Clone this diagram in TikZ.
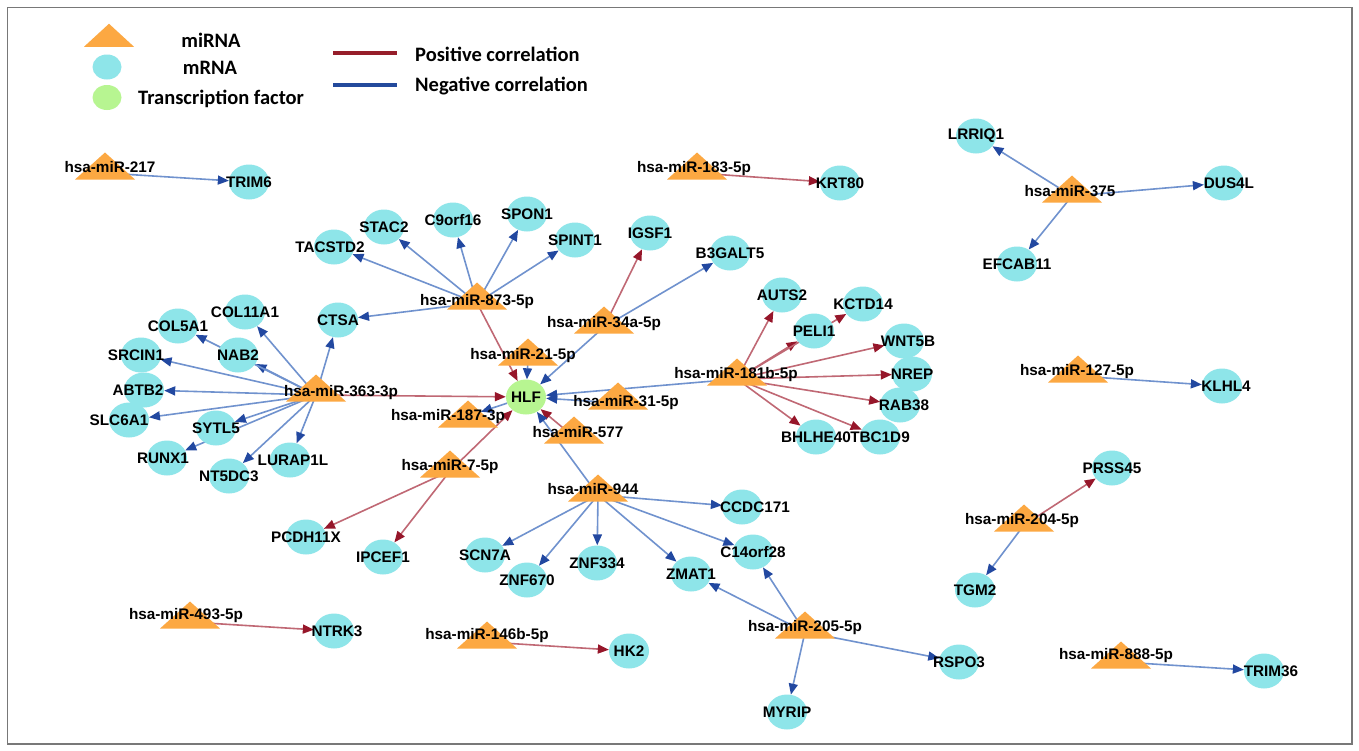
\documentclass[tikz,border=0pt]{standalone}
\usepackage{fontspec}
\setmainfont{Liberation Sans}
\newfontfamily\legfont{Carlito}
\usetikzlibrary{shapes.geometric,arrows.meta}
\definecolor{mirfill}{RGB}{252,168,66}
\definecolor{mrnafill}{RGB}{142,229,233}
\definecolor{tffill}{RGB}{183,245,145}
\definecolor{edgeblue}{RGB}{112,146,206}
\definecolor{tipblue}{RGB}{34,72,160}
\definecolor{edgered}{RGB}{192,104,116}
\definecolor{tipred}{RGB}{150,22,42}
\definecolor{legred}{RGB}{150,30,42}
\definecolor{legblue}{RGB}{36,74,156}
\definecolor{framegray}{RGB}{120,120,120}
\pgfdeclarelayer{bg}\pgfdeclarelayer{fg}\pgfsetlayers{bg,main,fg}
\tikzset{
 mir/.style={isosceles triangle, isosceles triangle stretches, shape border rotate=90,
   minimum width=60pt, minimum height=27pt, inner sep=0pt, fill=mirfill, draw=none},
 mrnab/.style={ellipse, fill=mrnafill, minimum width=40pt, minimum height=35pt, inner sep=0pt, draw=none},
 mrna/.style={mrnab, label={[lbl]center:#1}},
 lbl/.style={font=\bfseries\fontsize{15.3}{17}\selectfont, inner sep=0pt, text=black},
 negedge/.style={draw=edgeblue, line width=1.6pt, -{Triangle[length=11pt,width=9pt,color=tipblue]}},
 posedge/.style={draw=edgered, line width=1.6pt, -{Triangle[length=11pt,width=9pt,color=tipred]}},
 leg/.style={font=\legfont\bfseries\fontsize{20.5}{22}\selectfont, inner sep=0pt},
}
\newcommand\mirE[3]{\draw[#1] ([yshift=-5pt]#2.center) -- (#3);}
\begin{document}
\begin{tikzpicture}[x=1pt,y=-1pt]
\useasboundingbox (0,0) rectangle (1359,750);
\begin{pgfonlayer}{bg}
\fill[white] (0,0) rectangle (1359,750);
\end{pgfonlayer}
\draw[framegray, line width=1.2pt] (7.5,7.5) rectangle (1352,744);

% ---------- legend ----------
\node[mir, minimum width=50pt, minimum height=23pt] (legtri) at (109,37) {};
\node[leg] (legmir) at (211,40) {miRNA};
\node[ellipse, fill=mrnafill, minimum width=29pt, minimum height=25pt, inner sep=0pt] (legm) at (107,67) {};
\node[leg] (legmr) at (210,68) {mRNA};
\node[ellipse, fill=tffill, minimum width=29pt, minimum height=25pt, inner sep=0pt] (legtf) at (107,97.5) {};
\node[leg, anchor=west] (legtft) at (138,99) {Transcription factor};
\coordinate (rp1) at (333,53); \coordinate (rp2) at (397,53);
\draw[legred, line width=4pt] (rp1) -- (rp2);
\node[leg, anchor=west] (legpos) at (415,54) {Positive correlation};
\coordinate (bn1) at (333,85); \coordinate (bn2) at (397,85);
\draw[legblue, line width=4pt] (bn1) -- (bn2);
\node[leg, anchor=west] (legneg) at (415,86) {Negative correlation};

% ---------- miRNA triangles ----------
\node[mir] (m217) at (105,168) {};
\node[mir] (m183) at (697,168) {};
\node[mir] (m375) at (1072,191) {};
\node[mir] (m873) at (477,298) {};
\node[mir] (m34a) at (604,322) {};
\node[mir] (m21) at (528,354) {};
\node[mir] (m363) at (316,390) {};
\node[mir] (m181b) at (737,374) {};
\node[mir] (m31) at (618,398) {};
\node[mir] (m187) at (468,416) {};
\node[mir] (m577) at (574,432) {};
\node[mir] (m7) at (450,466) {};
\node[mir] (m127) at (1078,371) {};
\node[mir] (m944) at (598,490) {};
\node[mir] (m204) at (1024,520) {};
\node[mir] (m493) at (190,617) {};
\node[mir] (m146b) at (487,637) {};
\node[mir] (m205) at (805,627) {};
\node[mir] (m888) at (1121,657) {};

% ---------- transcription factor ----------
\node[ellipse, fill=tffill, minimum width=40pt, minimum height=35pt, inner sep=0pt, label={[lbl]center:HLF}] (hlf) at (526,397) {};

% ---------- mRNA ----------
\node[mrna=TRIM6] (trim6) at (249,182) {};
\node[mrna=KRT80] (krt80) at (840,183) {};
\node[mrna=LRRIQ1] (lrriq1) at (976,136) {};
\node[mrnab, label={[lbl,xshift=5pt]center:DUS4L}] (dus4l) at (1224,183) {};
\node[mrna=EFCAB11] (efcab11) at (1017,264) {};
\node[mrnab, label={[lbl,xshift=-4pt]center:TACSTD2}] (tacstd2) at (334,247) {};
\node[mrna=STAC2] (stac2) at (384,227) {};
\node[mrna=C9orf16] (c9orf16) at (453,220) {};
\node[mrna=SPON1] (spon1) at (527,214) {};
\node[mrna=SPINT1] (spint1) at (575,240) {};
\node[mrna=IGSF1] (igsf1) at (650,233) {};
\node[mrna=B3GALT5] (b3galt5) at (730,253) {};
\node[mrna=CTSA] (ctsa) at (338,320) {};
\node[mrna=COL11A1] (col11a1) at (245,312) {};
\node[mrna=COL5A1] (col5a1) at (178,326) {};
\node[mrna=NAB2] (nab2) at (238,355) {};
\node[mrnab, label={[lbl,xshift=-5pt]center:SRCIN1}] (srcin1) at (141,355) {};
\node[mrnab, label={[lbl,xshift=-6pt]center:ABTB2}] (abtb2) at (144,390) {};
\node[mrnab, label={[lbl,xshift=-10pt]center:SLC6A1}] (slc6a1) at (129,420) {};
\node[mrna=SYTL5] (sytl5) at (216,428) {};
\node[mrnab, label={[lbl,xshift=-4pt]center:RUNX1}] (runx1) at (167,458) {};
\node[mrna=NT5DC3] (nt5dc3) at (229,476) {};
\node[mrnab, label={[lbl,xshift=3pt]center:LURAP1L}] (lurap1l) at (290,460) {};
\node[mrna=AUTS2] (auts2) at (782,295) {};
\node[mrna=PELI1] (peli1) at (814,331) {};
\node[mrna=KCTD14] (kctd14) at (863,304) {};
\node[mrnab, label={[lbl,xshift=4pt]center:WNT5B}] (wnt5b) at (904,341) {};
\node[mrna=NREP] (nrep) at (912,374) {};
\node[mrnab, label={[lbl,xshift=4pt]center:RAB38}] (rab38) at (900,405) {};
\node[mrna=BHLHE40] (bhlhe40) at (816,437) {};
\node[mrna=TBC1D9] (tbc1d9) at (880,437) {};
\node[mrnab, label={[lbl,xshift=4pt]center:KLHL4}] (klhl4) at (1222,386) {};
\node[mrna=PCDH11X] (pcdh11x) at (306,537) {};
\node[mrna=IPCEF1] (ipcef1) at (383,557) {};
\node[mrnab, label={[lbl,xshift=13pt]center:CCDC171}] (ccdc171) at (742,507) {};
\node[mrna=SCN7A] (scn7a) at (485,555) {};
\node[mrna=ZNF670] (znf670) at (527,580) {};
\node[mrna=ZNF334] (znf334) at (597,563) {};
\node[mrna=ZMAT1] (zmat1) at (691,574) {};
\node[mrna=C14orf28] (c14orf28) at (753,552) {};
\node[mrna=MYRIP] (myrip) at (787,712) {};
\node[mrna=HK2] (hk2) at (629,651) {};
\node[mrnab, label={[lbl,xshift=3pt]center:NTRK3}] (ntrk3) at (334,631) {};
\node[mrna=RSPO3] (rspo3) at (959,662) {};
\node[mrnab, label={[lbl,xshift=7pt]center:TRIM36}] (trim36) at (1264,671) {};
\node[mrna=PRSS45] (prss45) at (1112,468) {};
\node[mrna=TGM2] (tgm2) at (975,590) {};

% ---------- miRNA labels ----------
\begin{pgfonlayer}{fg}
\node[lbl] (l217) at (110,167) {hsa-miR-217};
\node[lbl] (l183) at (694,169) {hsa-miR-183-5p};
\node[lbl] (l375) at (1070,191) {hsa-miR-375};
\node[lbl] (l873) at (477,302) {hsa-miR-873-5p};
\node[lbl] (l34a) at (604,324) {hsa-miR-34a-5p};
\node[lbl] (l21) at (523,356) {hsa-miR-21-5p};
\node[lbl] (l363) at (341,393) {hsa-miR-363-3p};
\node[lbl] (l181b) at (736,375) {hsa-miR-181b-5p};
\node[lbl] (l31) at (626,403) {hsa-miR-31-5p};
\node[lbl] (l187) at (448,417) {hsa-miR-187-3p};
\node[lbl] (l577) at (578,432) {hsa-miR-577};
\node[lbl] (l7) at (450,467) {hsa-miR-7-5p};
\node[lbl] (l127) at (1077,372) {hsa-miR-127-5p};
\node[lbl] (l944) at (593,489) {hsa-miR-944};
\node[lbl] (l204) at (1022,521) {hsa-miR-204-5p};
\node[lbl] (l493) at (186,616) {hsa-miR-493-5p};
\node[lbl] (l146b) at (487,636) {hsa-miR-146b-5p};
\node[lbl] (l205) at (805,628) {hsa-miR-205-5p};
\node[lbl] (l888) at (1116,656) {hsa-miR-888-5p};
\end{pgfonlayer}

% ---------- edges ----------
\begin{pgfonlayer}{bg}
\mirE{negedge}{m217}{trim6}
\mirE{posedge}{m183}{krt80}
\mirE{negedge}{m375}{lrriq1}
\mirE{negedge}{m375}{dus4l}
\mirE{negedge}{m375}{efcab11}
\mirE{negedge}{m873}{tacstd2}
\mirE{negedge}{m873}{stac2}
\mirE{negedge}{m873}{c9orf16}
\mirE{negedge}{m873}{spon1}
\mirE{negedge}{m873}{spint1}
\mirE{negedge}{m873}{ctsa}
\mirE{posedge}{m873}{hlf}
\mirE{posedge}{m34a}{igsf1}
\mirE{negedge}{m34a}{b3galt5}
\mirE{negedge}{m34a}{hlf}
\mirE{negedge}{m21}{hlf}
\mirE{negedge}{m363}{ctsa}
\mirE{negedge}{m363}{col11a1}
\mirE{negedge}{m363}{nab2}
\mirE{negedge}{m363}{col5a1}
\mirE{negedge}{m363}{srcin1}
\mirE{negedge}{m363}{abtb2}
\mirE{negedge}{m363}{slc6a1}
\mirE{negedge}{m363}{sytl5}
\mirE{negedge}{m363}{runx1}
\mirE{negedge}{m363}{nt5dc3}
\mirE{negedge}{m363}{lurap1l}
\mirE{posedge}{m363}{hlf}
\mirE{negedge}{m181b}{hlf}
\mirE{posedge}{m181b}{auts2}
\mirE{posedge}{m181b}{peli1}
\mirE{posedge}{m181b}{kctd14}
\mirE{posedge}{m181b}{wnt5b}
\mirE{posedge}{m181b}{nrep}
\mirE{posedge}{m181b}{rab38}
\mirE{posedge}{m181b}{bhlhe40}
\mirE{posedge}{m181b}{tbc1d9}
\mirE{negedge}{m31}{hlf}
\draw[negedge] (hlf) -- (m187);
\mirE{posedge}{m577}{hlf}
\mirE{posedge}{m7}{hlf}
\mirE{posedge}{m7}{pcdh11x}
\mirE{posedge}{m7}{ipcef1}
\mirE{negedge}{m944}{hlf}
\mirE{negedge}{m944}{ccdc171}
\mirE{negedge}{m944}{scn7a}
\mirE{negedge}{m944}{znf670}
\mirE{negedge}{m944}{znf334}
\mirE{negedge}{m944}{zmat1}
\mirE{negedge}{m944}{c14orf28}
\mirE{negedge}{m205}{zmat1}
\mirE{negedge}{m205}{c14orf28}
\mirE{negedge}{m205}{myrip}
\mirE{negedge}{m205}{rspo3}
\mirE{negedge}{m127}{klhl4}
\mirE{posedge}{m204}{prss45}
\mirE{negedge}{m204}{tgm2}
\mirE{posedge}{m493}{ntrk3}
\mirE{posedge}{m146b}{hk2}
\mirE{negedge}{m888}{trim36}
\end{pgfonlayer}
\end{tikzpicture}
\end{document}
